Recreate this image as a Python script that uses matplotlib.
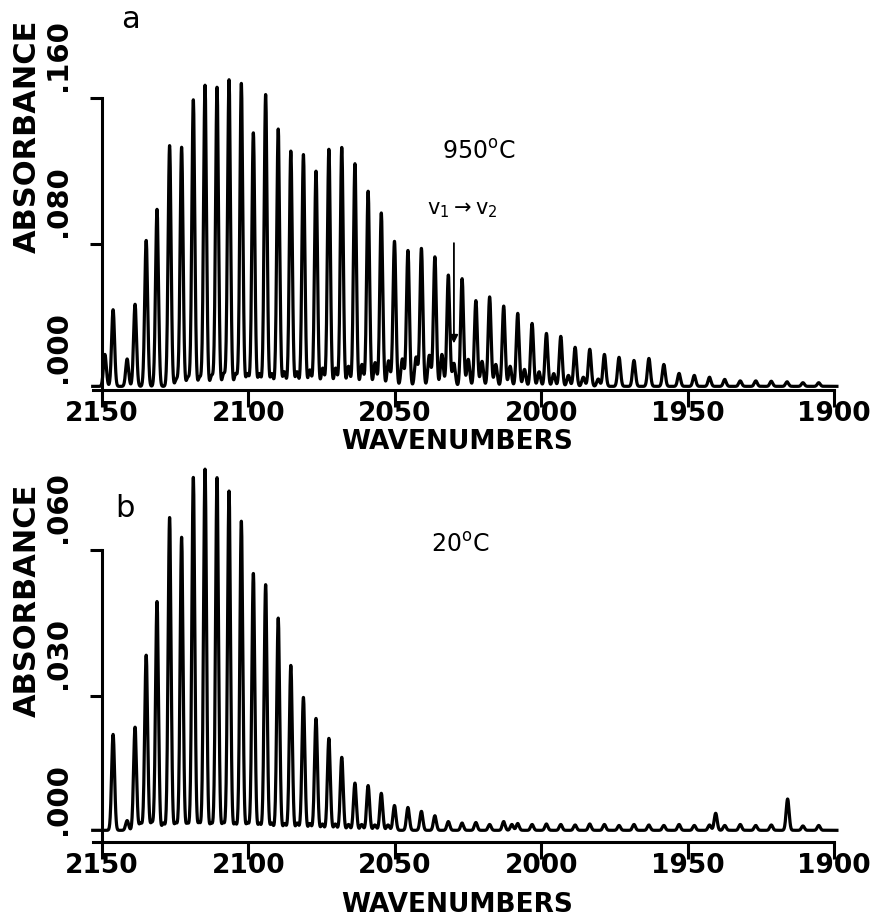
import numpy as np
import matplotlib.pyplot as plt

# Line positions (cm-1): R(0), P(1) ... P(51)
LINE_WN = [2146.2, 2138.7, 2134.9, 2131.2, 2126.9, 2122.8, 2118.8, 2114.8, 2110.7,
           2106.6, 2102.4, 2098.3, 2094.1, 2089.8, 2085.5, 2081.2, 2076.9, 2072.5,
           2068.1, 2063.6, 2059.1, 2054.6, 2050.1, 2045.5, 2040.9, 2036.3, 2031.7,
           2027.0, 2022.3, 2017.6, 2012.8, 2008.0, 2003.1, 1998.2, 1993.3, 1988.4,
           1983.4, 1978.4, 1973.4, 1968.3, 1963.2, 1958.1, 1952.9, 1947.7, 1942.5,
           1937.3, 1932.0, 1926.7, 1921.4, 1916.0, 1910.6, 1905.2]

# panel a, 950 C
HOT_HEIGHTS = [0.042, 0.045, 0.080, 0.097, 0.132, 0.131, 0.157, 0.165, 0.164,
               0.168, 0.166, 0.139, 0.160, 0.141, 0.129, 0.127, 0.118, 0.130,
               0.131, 0.122, 0.107, 0.095, 0.0795, 0.0745, 0.0756, 0.071, 0.061,
               0.059, 0.047, 0.049, 0.044, 0.040, 0.0345, 0.029, 0.0274, 0.0214,
               0.0203, 0.0175, 0.0159, 0.0142, 0.0153, 0.012, 0.0071, 0.006, 0.005,
               0.0038, 0.003, 0.003, 0.0028, 0.0025, 0.002, 0.002]
# weak v1 -> v2 lines and other small features in panel a
A_MINOR_WN = [2149.0, 2141.4, 2124.5, 2120.6, 2116.6, 2112.5, 2108.4, 2104.3, 2100.3,
              2096.2, 2092.0, 2087.7, 2083.4, 2079.0, 2074.6, 2070.2, 2065.8, 2061.2,
              2056.7, 2052.1, 2047.4, 2042.7, 2038.2, 2033.9, 2029.8, 2024.9, 2020.2,
              2015.5, 2010.6, 2005.7, 2000.7, 1995.7, 1990.7, 1985.6, 1980.5]
A_MINOR_H = [0.0175, 0.015, 0.004, 0.005, 0.005, 0.006, 0.007, 0.007, 0.007,
             0.007, 0.007, 0.008, 0.008, 0.009, 0.010, 0.010, 0.011, 0.012,
             0.013, 0.014, 0.015, 0.016, 0.017, 0.0175, 0.0126, 0.0148, 0.0137,
             0.012, 0.011, 0.0093, 0.008, 0.007, 0.006, 0.005, 0.004]

# panel b, 20 C
COLD_HEIGHTS = [0.0197, 0.0212, 0.036, 0.047, 0.0643, 0.0602, 0.0725, 0.0742, 0.0725,
                0.0697, 0.0635, 0.0528, 0.0505, 0.0436, 0.0339, 0.0273, 0.0230, 0.0189,
                0.0150, 0.0097, 0.0092, 0.0076, 0.0051, 0.0047, 0.0039, 0.003, 0.0018,
                0.0015, 0.0016, 0.0012, 0.0018, 0.0014, 0.0012, 0.0013, 0.0012, 0.0011,
                0.0013, 0.0012, 0.0010, 0.0012, 0.0011, 0.0010, 0.0012, 0.0010, 0.0011,
                0.0010, 0.0012, 0.0010, 0.0011, 0.0010, 0.0009, 0.0010]
B_MINOR_WN = [2141.4, 2136.8, 2133.0, 2129.0, 2124.8, 2120.8, 2116.8, 2112.7, 2108.6,
              2104.5, 2100.3, 2096.2, 2092.0, 2087.6, 2083.3, 2079.0, 2074.7, 2070.3,
              2065.8, 2061.3, 2056.8, 2052.3, 2010.0, 1940.4, 1915.8]
B_MINOR_H = [0.002, 0.0015, 0.0016, 0.0015, 0.0016, 0.0015, 0.0016, 0.0015, 0.0016,
             0.0015, 0.0016, 0.0015, 0.0015, 0.0014, 0.0015, 0.0014, 0.0013, 0.0013,
             0.0012, 0.0012, 0.0011, 0.0011, 0.0012, 0.0035, 0.0055]

XTICKS = [2150, 2100, 2050, 2000, 1950, 1900]
A_YTICKS = [0.0, 0.08, 0.16]
A_YLABELS = ['.000', '.080', '.160']
B_YTICKS = [0.0, 0.03, 0.06]
B_YLABELS = ['.000', '.030', '.060']

grid = np.arange(1899.0, 2153.2, 0.04)


def trace(centers, heights, base, sigma=0.5):
    y = np.full_like(grid, base)
    for c, h in zip(centers, heights):
        y += h * np.exp(-0.5 * ((grid - c) / sigma) ** 2)
    return y


def style_axes(ax, yticks, ylabels, ytop, label_y):
    ax.set_xlim(2153.2, 1899)
    ax.set_ylim(0, ytop)
    for s in ['top', 'right']:
        ax.spines[s].set_visible(False)
    ax.spines['left'].set_position(('data', 2150))
    ax.spines['left'].set_bounds(0, yticks[-1])
    ax.spines['bottom'].set_bounds(2153.2, 1900)
    for s in ['left', 'bottom']:
        ax.spines[s].set_linewidth(2.2)
    ax.set_xticks(XTICKS)
    ax.set_xticklabels([str(t) for t in XTICKS], fontsize=19, fontweight='bold')
    ax.tick_params(axis='x', direction='out', length=12, width=2.2, pad=-4)
    ax.set_yticks(yticks[1:])
    ax.set_yticklabels([])
    ax.tick_params(axis='y', direction='out', length=9, width=2.2)
    for v, lab in zip(yticks, ylabels):
        ax.annotate(lab, xy=(2150, v), xycoords='data', xytext=(-30, 7),
                    textcoords='offset pixels', rotation=90, ha='right',
                    va='bottom', fontsize=21, fontweight='bold')
    ax.text(0.4896, label_y, 'WAVENUMBERS', transform=ax.transAxes,
            ha='center', va='center', fontsize=19, fontweight='bold')


fig = plt.figure(figsize=(8.8, 9.21), dpi=100)

# panel a
ax1 = fig.add_axes([0.10523, 0.57655, 0.8458, 0.35668])
spec_a = trace(LINE_WN + A_MINOR_WN, HOT_HEIGHTS + A_MINOR_H, 0.002)
ax1.plot(grid, spec_a, color='black', lw=2.3, clip_on=False)
style_axes(ax1, A_YTICKS, A_YLABELS, 0.18, -0.158)
ax1.text(-0.088, 0.773, 'ABSORBANCE', transform=ax1.transAxes, rotation=90,
         ha='center', va='center', fontsize=22, fontweight='bold')
ax1.text(2140.4, 0.203, 'a', ha='center', va='center', fontsize=22)
ax1.text(2021.2, 0.1304, r'950$^{\mathrm{o}}$C', ha='center', va='center', fontsize=17)
ax1.text(2027.0, 0.0986, r'v$_1$$\rightarrow$v$_2$', ha='center', va='center', fontsize=15)
ax1.annotate('', xy=(2029.8, 0.024), xytext=(2029.8, 0.082),
             arrowprops=dict(arrowstyle='-|>', lw=1.3, color='black', mutation_scale=12))

# panel b
ax2 = fig.add_axes([0.10523, 0.08578, 0.8458, 0.3594])
spec_b = trace(LINE_WN + B_MINOR_WN, COLD_HEIGHTS + B_MINOR_H, 0.0024)
ax2.plot(grid, spec_b, color='black', lw=2.3, clip_on=False)
style_axes(ax2, B_YTICKS, B_YLABELS, 0.068, -0.19)
ax2.text(-0.088, 0.731, 'ABSORBANCE', transform=ax2.transAxes, rotation=90,
         ha='center', va='center', fontsize=22, fontweight='bold')
ax2.text(2142.1, 0.0686, 'b', ha='center', va='center', fontsize=22)
ax2.text(2027.7, 0.061, r'20$^{\mathrm{o}}$C', ha='center', va='center', fontsize=17)

fig.savefig('out.png', dpi=100)
